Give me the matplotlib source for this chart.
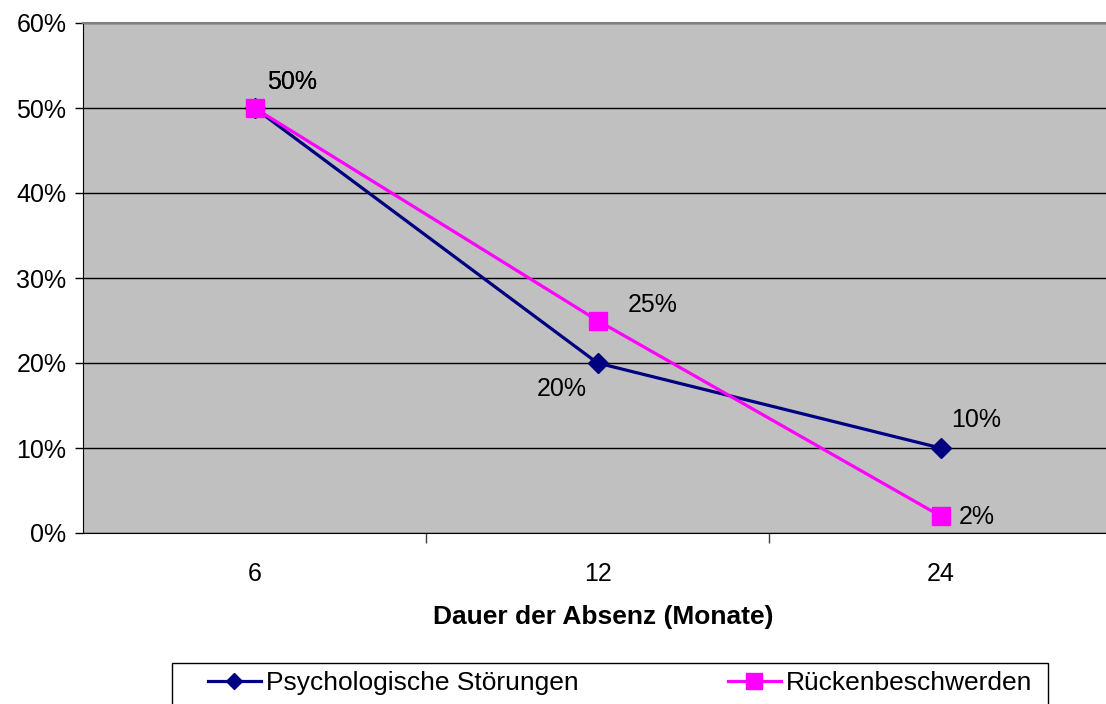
import matplotlib.pyplot as plt
from matplotlib.patches import Rectangle
from matplotlib.ticker import PercentFormatter

plt.rcParams['font.family'] = ['Liberation Sans', 'DejaVu Sans']

# data
months = ['6', '12', '24']
psych = [50, 20, 10]
ruecken = [50, 25, 2]
psych_labels = ['50%', '20%', '10%']
ruecken_labels = ['50%', '25%', '2%']

fig = plt.figure(figsize=(11.06, 7.04), dpi=100)
ax = fig.add_axes([83/1106, 1-533/704, 1029/1106, 510/704])
ax.set_facecolor('#C0C0C0')

x = list(range(len(months)))
ax.plot(x, psych, color='#000080', lw=2.3, marker='D', ms=10, label='Psychologische Störungen', zorder=3)
ax.plot(x, ruecken, color='#FF00FF', lw=2.3, marker='s', ms=13, label='Rückenbeschwerden', zorder=4)

# data labels (offsets in points)
psych_off = [(27, 19), (-26, -19), (26, 20)]
ruecken_off = [(27, 19), (40, 11), (26, -1)]
for i in x:
    ax.annotate(psych_labels[i], (i, psych[i]), xytext=psych_off[i], textcoords='offset points',
                ha='center', va='center', fontsize=18, zorder=5)
    ax.annotate(ruecken_labels[i], (i, ruecken[i]), xytext=ruecken_off[i], textcoords='offset points',
                ha='center', va='center', fontsize=18, zorder=5)

ax.set_xlim(-0.5, 2.5)
ax.set_ylim(0, 60)
ax.set_yticks(range(0, 61, 10))
ax.yaxis.set_major_formatter(PercentFormatter(decimals=0))
ax.set_xticks(x)
ax.set_xticklabels(months)
ax.set_xticks([0.5, 1.5], minor=True)
ax.tick_params(axis='x', which='major', length=0, pad=21, labelsize=18)
ax.tick_params(axis='x', which='minor', length=7, width=1, color='#404040')
ax.tick_params(axis='y', length=6, width=1, pad=6, labelsize=18)
ax.grid(axis='y', color='black', lw=1)
ax.set_axisbelow(True)

ax.spines['top'].set_color('#808080')
ax.spines['top'].set_linewidth(1.5)
ax.spines['right'].set_visible(False)
ax.spines['left'].set_color('black')
ax.spines['bottom'].set_color('black')

ax.set_xlabel('Dauer der Absenz (Monate)', fontsize=19, fontweight='bold')
ax.xaxis.set_label_coords((603-83)/1029, -(605-533)/510)

# legend box drawn separately, it runs off the bottom of the picture
fig.patches.append(Rectangle((172/1106, -0.02), 876/1106, 0.02 + 1-663/704,
                             transform=fig.transFigure, facecolor='white',
                             edgecolor='black', lw=1, zorder=0))
leg = fig.legend(loc='center left', bbox_to_anchor=(208/1106, 1-683/704),
                 ncol=2, fontsize=19, frameon=False, handlelength=2.0,
                 handletextpad=0.2, borderpad=0, borderaxespad=0, columnspacing=5.65,
                 markerscale=0.85)

fig.savefig('out.png', dpi=100, facecolor='white')
